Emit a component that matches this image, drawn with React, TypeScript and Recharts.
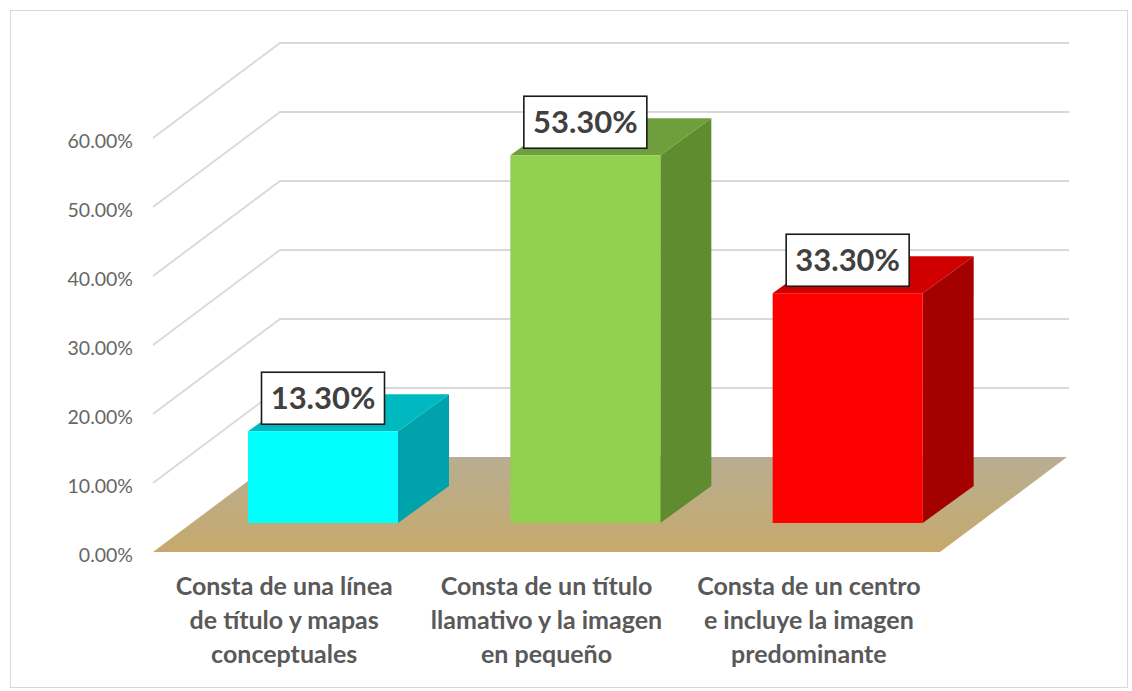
import React from 'react';
import { BarChart, Bar, XAxis, YAxis, CartesianGrid, LabelList } from 'recharts';

const categories = [
  'Consta de una línea de título y mapas conceptuales',
  'Consta de un título llamativo y la imagen en pequeño',
  'Consta de un centro e incluye la imagen predominante',
];
const categoryLines = [
  ['Consta de una línea', 'de título y mapas', 'conceptuales'],
  ['Consta de un título', 'llamativo y la imagen', 'en pequeño'],
  ['Consta de un centro', 'e incluye la imagen', 'predominante'],
];
const values = [0.133, 0.533, 0.333];
const yTicks = [0, 0.1, 0.2, 0.3, 0.4, 0.5, 0.6];

const frontColors = ['#00FFFF', '#92D050', '#FF0000'];
const topColors = ['#00B9C0', '#6E9F3C', '#D10000'];
const sideColors = ['#00A3AB', '#5E8C2F', '#A50000'];

const data = categories.map((c, i) => ({ name: c, value: values[i] }));

// oblique projection offsets
const WALL_DX = 127;
const WALL_DY = -95;
const BAR_OFF_DX = 39;
const BAR_OFF_DY = -29;
const BAR_DX = 51;
const BAR_DY = -37;

const fmtPct = (v: number) => (v * 100).toFixed(2) + '%';

const GridLine = (props: any) => {
  const { x1, y1, x2, y, height, index } = props;
  const isBottom =
    typeof y === 'number' && typeof height === 'number'
      ? Math.abs(y1 - (y + height)) < 1
      : index === 0;
  if (isBottom) {
    const pts = [
      [x1, y1],
      [x2, y1],
      [x2 + WALL_DX, y1 + WALL_DY],
      [x1 + WALL_DX, y1 + WALL_DY],
    ]
      .map((p) => p.join(','))
      .join(' ');
    return <polygon key={`floor`} points={pts} fill="url(#floorGrad)" stroke="none" />;
  }
  const d = `M${x1},${y1} L${x1 + WALL_DX},${y1 + WALL_DY} L${x2 + WALL_DX + 2},${y1 + WALL_DY}`;
  return <path key={`g${index}`} d={d} fill="none" stroke="#D9D9D9" strokeWidth={1.8} />;
};

const Bar3D = (props: any) => {
  const { x, y, width, height, index } = props;
  const fx = x + BAR_OFF_DX;
  const fy = y + BAR_OFF_DY;
  const w = width;
  const h = height;
  const top = [
    [fx, fy],
    [fx + w, fy],
    [fx + w + BAR_DX, fy + BAR_DY],
    [fx + BAR_DX, fy + BAR_DY],
  ]
    .map((p) => p.join(','))
    .join(' ');
  const side = [
    [fx + w, fy],
    [fx + w + BAR_DX, fy + BAR_DY],
    [fx + w + BAR_DX, fy + h + BAR_DY],
    [fx + w, fy + h],
  ]
    .map((p) => p.join(','))
    .join(' ');
  return (
    <g>
      <polygon points={side} fill={sideColors[index]} />
      <polygon points={top} fill={topColors[index]} />
      <rect x={fx} y={fy} width={w} height={h} fill={frontColors[index]} />
    </g>
  );
};

const DataLabel = (props: any) => {
  const { x, y, width, value } = props;
  const cx = x + width / 2 + BAR_OFF_DX;
  const bottom = y + BAR_OFF_DY - 7;
  const bw = 123;
  const bh = 52;
  return (
    <g>
      <rect
        x={cx - bw / 2}
        y={bottom - bh}
        width={bw}
        height={bh}
        fill="#FFFFFF"
        stroke="#1A1A1A"
        strokeWidth={1.6}
      />
      <text
        x={cx}
        y={bottom - bh / 2 + 11}
        textAnchor="middle"
        fontFamily="Lato, 'Open Sans', sans-serif"
        fontWeight={700}
        fontSize={31}
        fill="#404040"
      >
        {fmtPct(value)}
      </text>
    </g>
  );
};

const YTick = (props: any) => {
  const { x, y, payload } = props;
  return (
    <text
      x={x}
      y={y + 10}
      textAnchor="end"
      fontFamily="Lato, 'Open Sans', sans-serif"
      fontSize={19.5}
      fill="#666666"
    >
      {fmtPct(payload.value)}
    </text>
  );
};

const XTick = (props: any) => {
  const { x, y, payload, index } = props;
  let i = categories.indexOf(payload.value);
  if (i < 0) i = index;
  const lines = categoryLines[i] || [];
  return (
    <g>
      {lines.map((ln, k) => (
        <text
          key={k}
          x={x}
          y={y + 43 + k * 34}
          textAnchor="middle"
          fontFamily="Lato, 'Open Sans', sans-serif"
          fontWeight={700}
          fontSize={25}
          fill="#595959"
        >
          {ln}
        </text>
      ))}
    </g>
  );
};

export default function App() {
  return (
    <div style={{ position: 'absolute', left: 0, top: 0, width: 1132, height: 691, background: '#FFFFFF' }}>
      <div
        style={{
          position: 'absolute',
          left: 10,
          top: 10,
          width: 1118,
          height: 678,
          border: '1.5px solid #D9D9D9',
          boxSizing: 'border-box',
        }}
      />
      <div style={{ position: 'absolute', left: 0, top: 0 }}>
        <BarChart
          width={1132}
          height={691}
          data={data}
          margin={{ top: 138, right: 192, bottom: 0, left: 0 }}
        >
          <defs>
            <linearGradient id="floorGrad" x1="0" y1="0" x2="0" y2="1">
              <stop offset="0%" stopColor="#B8AE92" />
              <stop offset="100%" stopColor="#C6A96C" />
            </linearGradient>
          </defs>
          <CartesianGrid vertical={false} horizontal={GridLine as any} />
          <XAxis
            dataKey="name"
            height={139}
            axisLine={false}
            tickLine={false}
            tickSize={0}
            tickMargin={0}
            interval={0}
            tick={XTick as any}
          />
          <YAxis
            width={153}
            domain={[0, 0.6]}
            ticks={yTicks}
            axisLine={false}
            tickLine={false}
            tickSize={0}
            tickMargin={20}
            tick={YTick as any}
          />
          <Bar dataKey="value" barSize={150} isAnimationActive={false} shape={Bar3D as any}>
            <LabelList dataKey="value" content={DataLabel as any} />
          </Bar>
        </BarChart>
      </div>
    </div>
  );
}
